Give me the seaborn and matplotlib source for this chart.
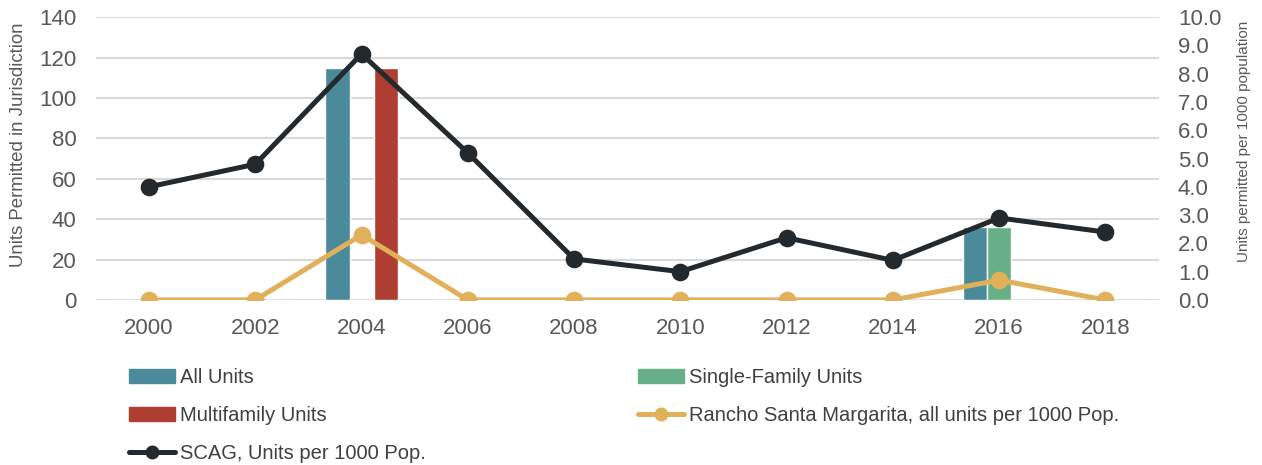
import pandas as pd
import matplotlib.pyplot as plt
import seaborn as sns
from matplotlib.patches import Patch
from matplotlib.lines import Line2D

years = ['2000', '2002', '2004', '2006', '2008', '2010', '2012', '2014', '2016', '2018']
all_units = [0, 1, 115, 0, 0, 0, 0, 0, 36, 0]
single_family = [0, 1, 0, 0, 0, 0, 0, 0, 36, 0]
multifamily = [0, 0, 115, 0, 0, 0, 0, 0, 0, 0]
rsm_per_1000 = [0.0, 0.0, 2.3, 0.0, 0.0, 0.0, 0.0, 0.0, 0.7, 0.0]
scag_per_1000 = [4.0, 4.8, 8.7, 5.2, 1.45, 1.0, 2.2, 1.4, 2.9, 2.4]

bar_names = ['All Units', 'Single-Family Units', 'Multifamily Units']
bar_colors = ['#4A8A9B', '#67B087', '#AE3E31']
rsm_label = 'Rancho Santa Margarita, all units per 1000 Pop.'
scag_label = 'SCAG, Units per 1000 Pop.'
rsm_color = '#E0B05A'
scag_color = '#23292D'

sns.set_style('white')
plt.rcParams['font.family'] = ['Liberation Sans', 'DejaVu Sans']

bars = pd.DataFrame({
    'year': years * 3,
    'units': all_units + single_family + multifamily,
    'series': [n for n in bar_names for _ in years],
})

fig = plt.figure(figsize=(12.62, 4.65), dpi=100)
ax = fig.add_axes([0.076, 0.355, 0.842, 0.608])

sns.barplot(data=bars, x='year', y='units', hue='series', hue_order=bar_names,
            palette=bar_colors, width=0.68, saturation=1, ax=ax, legend=False, zorder=2)

ax.set_ylim(0, 140)
ax.set_yticks(range(0, 141, 20))
ax.grid(axis='y', color='#D9D9D9', linewidth=1.5, zorder=0)
ax.set_axisbelow(True)
ax.set_xlabel('')
ax.set_ylabel('Units Permitted in Jurisdiction', fontsize=13.4, color='#595959')
ax.yaxis.set_label_coords(-0.065, 0.55)
ax.tick_params(axis='both', labelsize=16, colors='#595959', length=0)
ax.tick_params(axis='y', pad=14)
ax.tick_params(axis='x', pad=13)
for s in ax.spines.values():
    s.set_visible(False)

ax2 = ax.twinx()
lines = pd.DataFrame({
    'year': years * 2,
    'value': rsm_per_1000 + scag_per_1000,
    'series': [rsm_label] * len(years) + [scag_label] * len(years),
})
for lbl, col in [(rsm_label, rsm_color), (scag_label, scag_color)]:
    sns.pointplot(data=lines[lines['series'] == lbl], x='year', y='value', color=col,
                  markers='o', markersize=10, linewidth=3.6, ax=ax2, zorder=5)
ax2.set_ylim(0, 10)
ax2.set_yticks(range(0, 11))
ax2.set_yticklabels([f'{v:.1f}' for v in range(0, 11)])
ax2.set_xlim(-0.5, len(years) - 0.5)
ax.set_xlim(-0.5, len(years) - 0.5)
ax2.set_xlabel('')
ax2.set_ylabel('Units permitted per 1000 population', fontsize=11, color='#595959')
ax2.yaxis.set_label_coords(1.074, 0.56)
ax2.tick_params(axis='y', labelsize=16, colors='#595959', length=0, pad=14)
for s in ax2.spines.values():
    s.set_visible(False)

leg_font = {'family': ['Liberation Sans Narrow', 'Liberation Sans'], 'size': 14.5}
left_handles = [
    Patch(color=bar_colors[0]),
    Patch(color=bar_colors[2]),
    Line2D([], [], color=scag_color, linewidth=3.6, marker='o', markersize=9),
]
right_handles = [
    Patch(color=bar_colors[1]),
    Line2D([], [], color=rsm_color, linewidth=3.6, marker='o', markersize=9),
]
common = dict(frameon=False, handlelength=2.3, handletextpad=0.25, labelspacing=0.93,
              prop=leg_font, labelcolor='#404040', loc='upper left', borderaxespad=0)
fig.legend(left_handles, [bar_names[0], bar_names[2], scag_label],
           bbox_to_anchor=(0.0956, 0.225), **common)
fig.legend(right_handles, [bar_names[1], rsm_label],
           bbox_to_anchor=(0.499, 0.225), **common)

fig.savefig('out.png', dpi=100)
